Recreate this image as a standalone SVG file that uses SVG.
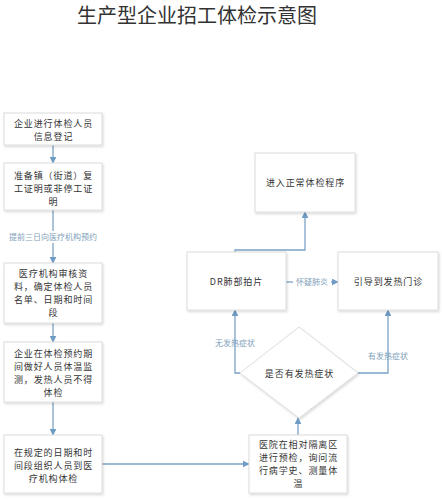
<svg xmlns="http://www.w3.org/2000/svg" width="442" height="500" viewBox="0 0 442 500">
<defs>
<filter id="sh" x="-10%" y="-10%" width="130%" height="130%">
<feDropShadow dx="1" dy="1.5" stdDeviation="1.2" flood-color="#000" flood-opacity="0.15"/>
</filter>
<marker id="ah" viewBox="0 0 10 10" refX="9" refY="5" markerWidth="7" markerHeight="7" markerUnits="userSpaceOnUse" orient="auto">
<path d="M0,0 L10,5 L0,10 z" fill="#6f9cc4"/>
</marker>
</defs>
<style>
.box{fill:#fff;stroke:#dcdcdc;stroke-width:1;filter:url(#sh)}
.t{font-family:"Noto Sans CJK SC","Liberation Sans",sans-serif;font-size:9px;letter-spacing:0.9px;fill:#333;text-anchor:middle}
.lbl{font-family:"Noto Sans CJK SC","Liberation Sans",sans-serif;font-size:8px;fill:#7f9fbb;text-anchor:middle}
.title{font-family:"Noto Sans CJK SC","Liberation Sans",sans-serif;font-size:20px;fill:#333;text-anchor:middle}
.c{fill:none;stroke:#7ba3c6;stroke-width:1.3}
</style>
<rect width="442" height="500" fill="#fff"/>
<text class="title" x="197" y="23">生产型企业招工体检示意图</text>

<g id="connectors">
<line class="c" x1="53" y1="145" x2="53" y2="163" marker-end="url(#ah)"/>
<line class="c" x1="53" y1="210" x2="53" y2="231"/>
<line class="c" x1="53" y1="243" x2="53" y2="263" marker-end="url(#ah)"/>
<text class="lbl" x="53" y="240">提前三日向医疗机构预约</text>
<line class="c" x1="53" y1="323" x2="53" y2="342" marker-end="url(#ah)"/>
<line class="c" x1="53" y1="402" x2="53" y2="435" marker-end="url(#ah)"/>
<line class="c" x1="102" y1="464" x2="249" y2="464" marker-end="url(#ah)"/>
<line class="c" x1="298" y1="435" x2="298" y2="418" marker-end="url(#ah)"/>
<polyline class="c" points="240,373 235,373 235,310" marker-end="url(#ah)"/>
<text class="lbl" x="235" y="346">无发热症状</text>
<polyline class="c" points="358,373 388,373 388,310" marker-end="url(#ah)"/>
<text class="lbl" x="388" y="359">有发热症状</text>
<polyline class="c" points="235,252 235,250 305,250 305,212" marker-end="url(#ah)"/>
<line class="c" x1="286" y1="282" x2="293" y2="282"/>
<line class="c" x1="331" y1="282" x2="338" y2="282" marker-end="url(#ah)"/>
<text class="lbl" x="312" y="285">怀疑肺炎</text>
</g>

<g id="n1">
<rect class="box" x="4" y="113" width="98" height="32"/>
<text class="t" x="53.5" y="126.5">企业进行体检人员</text>
<text class="t" x="53.5" y="139.5">信息登记</text>
</g>
<g id="n2">
<rect class="box" x="4" y="163" width="98" height="47"/>
<text class="t" x="53.5" y="178.5">准备镇（街道）复</text>
<text class="t" x="53.5" y="191.5">工证明或非停工证</text>
<text class="t" x="53.5" y="204.5">明</text>
</g>
<g id="n3">
<rect class="box" x="4" y="263" width="98" height="60"/>
<text class="t" x="53.5" y="276.5">医疗机构审核资</text>
<text class="t" x="53.5" y="289.5">料，确定体检人员</text>
<text class="t" x="53.5" y="302.5">名单、日期和时间</text>
<text class="t" x="53.5" y="315.5">段</text>
</g>
<g id="n4">
<rect class="box" x="4" y="342" width="98" height="60"/>
<text class="t" x="53.5" y="356.5">企业在体检预约期</text>
<text class="t" x="53.5" y="369.5">间做好人员体温监</text>
<text class="t" x="53.5" y="382.5">测，发热人员不得</text>
<text class="t" x="53.5" y="395.5">体检</text>
</g>
<g id="n5">
<rect class="box" x="4" y="435" width="98" height="58"/>
<text class="t" x="53.5" y="455.5">在规定的日期和时</text>
<text class="t" x="53.5" y="468.5">间段组织人员到医</text>
<text class="t" x="53.5" y="481.5">疗机构体检</text>
</g>
<g id="n6">
<rect class="box" x="249" y="435" width="98" height="58"/>
<text class="t" x="298.5" y="447.5">医院在相对隔离区</text>
<text class="t" x="298.5" y="460.5">进行预检，询问流</text>
<text class="t" x="298.5" y="473.5">行病学史、测量体</text>
<text class="t" x="298.5" y="486.5">温</text>
</g>
<g id="n7">
<polygon class="box" points="299,327 358,373 299,418 240,373"/>
<text class="t" x="299.5" y="376.5">是否有发热症状</text>
</g>
<g id="n8">
<rect class="box" x="187" y="252" width="99" height="58"/>
<text class="t" x="236.5" y="285">DR肺部拍片</text>
</g>
<g id="n9">
<rect class="box" x="338" y="252" width="100" height="58"/>
<text class="t" x="388.5" y="285">引导到发热门诊</text>
</g>
<g id="n10">
<rect class="box" x="255" y="153" width="100" height="59"/>
<text class="t" x="305.5" y="186">进入正常体检程序</text>
</g>
</svg>
